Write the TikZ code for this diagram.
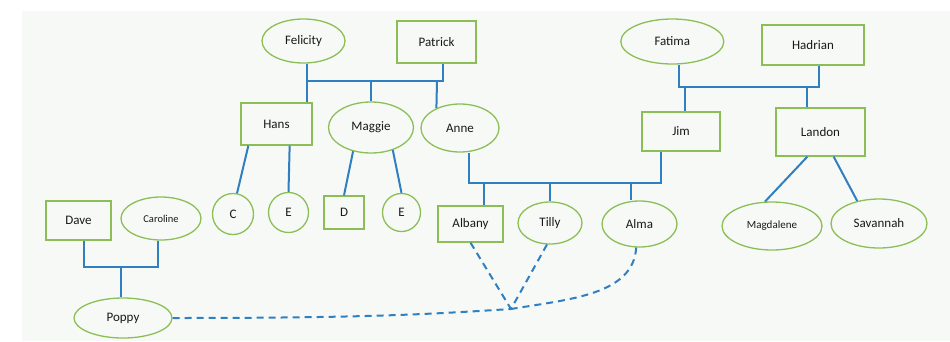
\documentclass[tikz,border=0pt]{standalone}
\usepackage{fontspec}
\setmainfont{Carlito}
\usetikzlibrary{shapes.geometric}
\definecolor{edgegreen}{RGB}{139,191,85}
\definecolor{linkblue}{RGB}{47,127,193}
\definecolor{paper}{RGB}{247,249,247}
\definecolor{inkgray}{RGB}{25,25,25}
\tikzset{
  person/.style={draw=edgegreen, line width=1.3pt, text=inkgray, inner sep=0pt, font=\fontsize{13}{15}\selectfont},
  ovalp/.style={person, ellipse},
  link/.style={draw=linkblue, line width=2pt},
  dlink/.style={link, dash pattern=on 7pt off 5pt},
}
\begin{document}
\begin{tikzpicture}[x=1pt,y=-1pt]
\useasboundingbox (0,0) rectangle (950,341);
\fill[white] (0,0) rectangle (950,341);
\fill[paper] (22,11) rectangle (950,341);

% nodes
\node[ovalp, minimum width=83pt, minimum height=44pt] (fel) at (303.5,41) {Felicity};
\node[person, rectangle, minimum width=79pt, minimum height=42pt] (pat) at (436.5,42) {Patrick};
\node[person, rectangle, minimum width=71pt, minimum height=42pt] (hans) at (276.5,124) {Hans};
\node[ovalp, minimum width=85pt, minimum height=51pt] (mag) at (371,127.5) {Maggie};
\node[ovalp, minimum width=78pt, minimum height=48pt] (anne) at (460,128) {Anne};
\node[ovalp, minimum width=103pt, minimum height=45pt] (fat) at (672.3,41.5) {Fatima};
\node[person, rectangle, minimum width=102pt, minimum height=40pt] (had) at (813,45) {Hadrian};
\node[person, rectangle, minimum width=78pt, minimum height=39pt] (jim) at (681,131.5) {Jim};
\node[person, rectangle, minimum width=89pt, minimum height=48pt] (lan) at (820.5,132) {Landon};
\node[person, rectangle, minimum width=65pt, minimum height=39pt] (dave) at (78.5,220.5) {Dave};
\node[ovalp, minimum width=80pt, minimum height=43pt, font=\fontsize{10.5}{12}\selectfont] (car) at (161,218.5) {Caroline};
\node[ovalp, minimum width=98pt, minimum height=40pt] (poppy) at (123,318) {Poppy};
\node[person, circle, minimum size=41pt] (cc) at (233,214) {C};
\node[person, circle, minimum size=40pt] (ea) at (288.5,212.5) {E};
\node[person, rectangle, minimum width=40pt, minimum height=33pt] (dd) at (344,212.5) {D};
\node[person, circle, minimum size=38pt] (eb) at (401.5,212.5) {E};
\node[person, rectangle, minimum width=65pt, minimum height=36pt] (alb) at (470.5,224) {Albany};
\node[ovalp, minimum width=64pt, minimum height=42pt] (til) at (550,223) {Tilly};
\node[ovalp, minimum width=75pt, minimum height=46pt] (alma) at (639.5,224) {Alma};
\node[ovalp, minimum width=100pt, minimum height=48pt, font=\fontsize{11}{13}\selectfont] (magd) at (772,226) {Magdalene};
\node[ovalp, minimum width=96pt, minimum height=49pt] (sav) at (879,223.5) {Savannah};

% junction coordinates
\coordinate (fpL) at (307,81);
\coordinate (fpR) at (443,81);
\coordinate (fpA) at (437,81);
\coordinate (fhL) at (679,87);
\coordinate (fhR) at (819,87);
\coordinate (fhJ) at (685,87);
\coordinate (fhK) at (807,87);
\coordinate (ajL) at (469,183);
\coordinate (ajR) at (661,183);
\coordinate (ajA) at (484,183);
\coordinate (ajM) at (631,183);
\coordinate (dcL) at (84,267);
\coordinate (dcR) at (158,267);
\coordinate (dcP) at (121,267);
\coordinate (meet) at (511,309);

% Felicity + Patrick
\draw[link] (fpL |- fel.south) -- (fpL) -- (fpR) -- (fpR |- pat.south);
\draw[link] (fpL) -- (fpL |- hans.north);
\draw[link] (mag.north |- fpL) -- (mag.north);
\draw[link] (fpA) -- (anne.140);
% Hans, Maggie children
\draw[link] ([xshift=8pt]hans.south west) -- (cc.79);
\draw[link] ([xshift=-23pt]hans.south east) -- (ea.north);
\draw[link] (mag.233) -- (dd.north);
\draw[link] (mag.314) -- (eb.north);
% Fatima + Hadrian
\draw[link] (fhL |- fat.south) -- (fhL) -- (fhR) -- (fhR |- had.south);
\draw[link] (fhJ) -- (fhJ |- jim.north);
\draw[link] (fhK) -- (fhK |- lan.north);
% Landon children
\draw[link] ([xshift=32pt]lan.south west) -- (magd.106);
\draw[link] ([xshift=-32pt]lan.south east) -- (sav.134);
% Anne + Jim
\draw[link] (ajL |- anne.south) -- (ajL) -- (ajR) -- (ajR |- jim.south);
\draw[link] (ajA) -- (ajA |- alb.north);
\draw[link] (til.north |- ajL) -- (til.north);
\draw[link] (ajM) -- (ajM |- alma.north);
% Dave + Caroline
\draw[link] (dcL |- dave.south) -- (dcL) -- (dcR) -- (dcR |- car.south);
\draw[link] (dcP) -- (dcP |- poppy.north);
% dashed
\draw[dlink] (alb.south) -- (meet);
\draw[dlink] (til.262) -- (meet);
\draw[dlink] (alma.262) .. controls +(-3,47) and +(60,-10) .. (meet);
\draw[dlink] (poppy.east) .. controls +(200,0) and +(-80,5) .. (meet);
\end{tikzpicture}
\end{document}
